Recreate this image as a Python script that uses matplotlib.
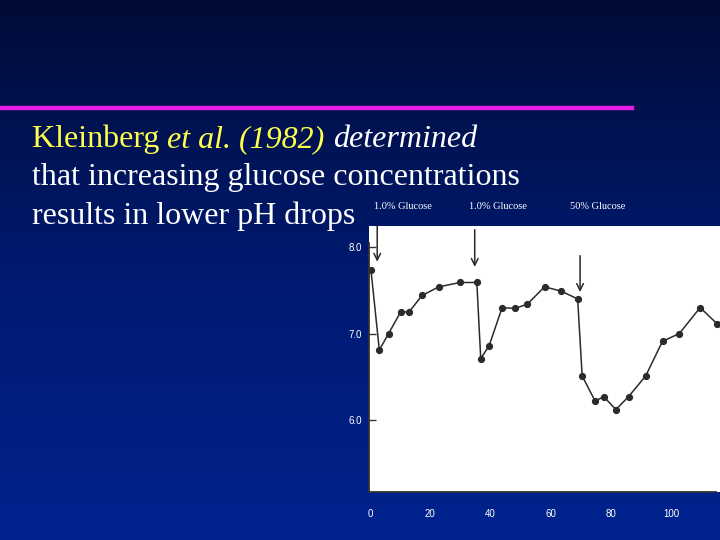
import numpy as np
import matplotlib
matplotlib.use("Agg")
import matplotlib.pyplot as plt
from matplotlib.colors import LinearSegmentedColormap

# pH readings (time axis in the figure's units)
time = [0.3, 3.1, 6.2, 10.2, 13.0, 17.3, 22.9, 29.9, 35.5,
        36.8, 39.6, 43.9, 48.2, 52.3, 58.0, 63.5, 69.0,
        70.5, 74.8, 77.7, 81.7, 85.9, 91.6, 97.2, 102.8, 109.7, 115.4]
ph = [7.74, 6.81, 7.00, 7.25, 7.25, 7.44, 7.54, 7.59, 7.59,
      6.71, 6.86, 7.30, 7.29, 7.34, 7.54, 7.49, 7.40,
      6.51, 6.22, 6.27, 6.12, 6.27, 6.51, 6.91, 7.00, 7.30, 7.11]

# glucose additions: where the arrow points, and its label
dose_time = [2.4, 34.8, 69.8]
dose_tip = [7.83, 7.77, 7.48]
dose_top = [8.24, 8.20, 7.90]
dose_labels = ["1.0% Glucose", "1.0% Glucose", "50% Glucose"]
dose_label_x = [11.0, 42.5, 75.7]

yticks = [6.0, 7.0, 8.0]
ytick_labels = ["6.0", "7.0", "8.0"]
xticks = [0, 20, 40, 60, 80, 100]

fig = plt.figure(figsize=(7.2, 5.4), dpi=100)

# slide background: dark navy at the top fading to blue at the bottom
bg = fig.add_axes([0, 0, 1, 1], zorder=-10)
cmap = LinearSegmentedColormap.from_list("slide", ["#000b36", "#001a70", "#00238f"])
bg.imshow(np.linspace(0, 1, 256).reshape(-1, 1), aspect="auto", cmap=cmap,
          extent=[0, 1, 0, 1])
bg.set_axis_off()

# magenta rule under the (empty) title area
fig.add_artist(plt.Line2D([0, 632 / 720], [1 - 107.5 / 540] * 2,
                          color="#e21ee6", lw=3.2, transform=fig.transFigure))

# slide text
serif = "Liberation Serif"
fs = 23
r = fig.canvas.get_renderer()
y1 = 1 - 147 / 540
x = 32 / 720
for txt, col, sty in [("Kleinberg ", "#ffff4d", "normal"),
                      ("et al. (1982) ", "#ffff4d", "italic"),
                      ("determined", "white", "italic")]:
    t = fig.text(x, y1, txt, color=col, style=sty, family=serif, fontsize=fs,
                 va="baseline", ha="left")
    x += t.get_window_extent(r).width / 720
fig.text(32 / 720, 1 - 185 / 540, "that increasing glucose concentrations",
         color="white", family=serif, fontsize=fs, va="baseline")
fig.text(32 / 720, 1 - 224 / 540, "results in lower pH drops",
         color="white", family=serif, fontsize=fs, va="baseline")

# the chart itself
ax = fig.add_axes([369 / 720, 48 / 540, 351 / 720, 266 / 540])
ax.set_facecolor("white")
ax.plot(time, ph, color="#2b2b2b", lw=1.1, marker="o", ms=4.2,
        markerfacecolor="#2b2b2b", markeredgecolor="#2b2b2b", clip_on=False)
ax.set_xlim(-0.33, 116.3)
ax.set_ylim(5.168, 8.243)

for s in ["top", "right"]:
    ax.spines[s].set_visible(False)
ax.spines["left"].set_bounds(5.168, 8.05)
ax.spines["bottom"].set_bounds(-0.33, 115.0)
for s in ["left", "bottom"]:
    ax.spines[s].set_color("#333333")
    ax.spines[s].set_linewidth(1.3)

ax.set_yticks(yticks)
ax.set_yticklabels(ytick_labels)
ax.set_xticks(xticks)
ax.tick_params(axis="y", direction="in", length=5, width=1, color="#333333",
               pad=5, labelcolor="white", labelsize=7)
ax.tick_params(axis="x", length=0, pad=12, labelcolor="white", labelsize=7)
for lab in ax.get_xticklabels() + ax.get_yticklabels():
    lab.set_family("Liberation Sans")

for xt, tip, top, lab, lx in zip(dose_time, dose_tip, dose_top, dose_labels, dose_label_x):
    ax.annotate("", xy=(xt, tip), xytext=(xt, top),
                arrowprops=dict(arrowstyle="->", color="#2b2b2b", lw=1.1,
                                mutation_scale=12, shrinkA=0, shrinkB=0),
                annotation_clip=False)
    ax.text(lx, 8.47, lab, color="white", family=serif, fontsize=7.5,
            ha="center", va="center", clip_on=False)

fig.savefig("out.png", dpi=100)
